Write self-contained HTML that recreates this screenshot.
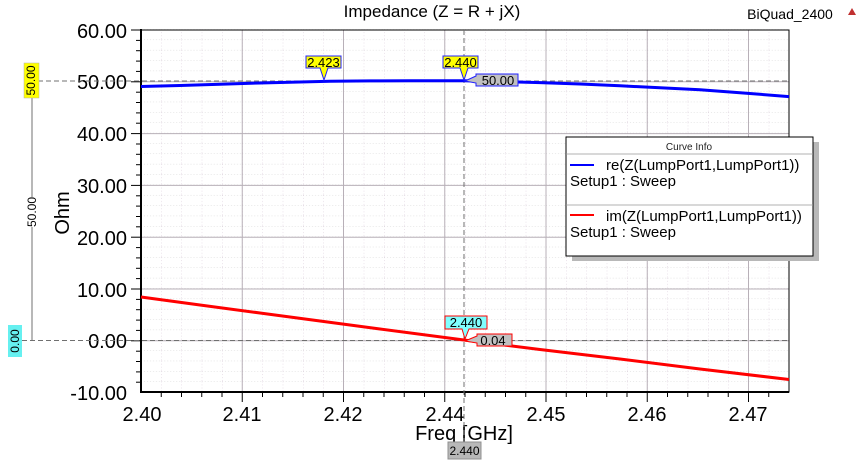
<!DOCTYPE html>
<html><head><meta charset="utf-8"><style>
html,body{margin:0;padding:0;background:#fff;}
svg{display:block;font-family:"Liberation Sans",Arial,sans-serif;}
</style></head><body>
<svg width="865" height="462" viewBox="0 0 865 462" xmlns="http://www.w3.org/2000/svg">
<defs>
<pattern id="minor" patternUnits="userSpaceOnUse" x="141" y="29.2" width="20.25" height="10.36">
<line x1="0" y1="0" x2="20.25" y2="0" stroke="#d0d0d0" stroke-width="1" stroke-dasharray="1,2"/>
<line x1="0" y1="0" x2="0" y2="10.36" stroke="#d8c8d8" stroke-width="1" stroke-dasharray="1,2"/>
</pattern>
</defs>
<rect width="865" height="462" fill="#fff"/>
<text x="432" y="17" font-size="17" text-anchor="middle" fill="#000">Impedance (Z = R + jX)</text>
<text x="790" y="19" font-size="14" text-anchor="middle" fill="#000">BiQuad_2400</text>
<polygon points="852,8 848,15 856,15" fill="#c03030"/>
<rect x="141" y="29.2" width="648" height="362.6" fill="url(#minor)"/>
<g stroke="#b8b0b8" stroke-width="1">
<line x1="242.25" y1="30" x2="242.25" y2="392"/><line x1="343.5" y1="30" x2="343.5" y2="392"/>
<line x1="444.75" y1="30" x2="444.75" y2="392"/><line x1="546" y1="30" x2="546" y2="392"/>
<line x1="647.25" y1="30" x2="647.25" y2="392"/><line x1="748.5" y1="30" x2="748.5" y2="392"/>
<line x1="141" y1="133.6" x2="789" y2="133.6"/><line x1="141" y1="185.4" x2="789" y2="185.4"/>
<line x1="141" y1="237.2" x2="789" y2="237.2"/><line x1="141" y1="289" x2="789" y2="289"/>
<line x1="141" y1="81.8" x2="789" y2="81.8"/><line x1="141" y1="340.8" x2="789" y2="340.8"/>
</g>
<rect x="141" y="30" width="648" height="362" fill="none" stroke="#000" stroke-width="1"/>
<line x1="141" y1="29" x2="141" y2="393" stroke="#000" stroke-width="2"/>
<line x1="140" y1="392" x2="789" y2="392" stroke="#000" stroke-width="2"/>
<g stroke="#000" stroke-width="1">
<line x1="131" y1="30" x2="141" y2="30"/><line x1="131" y1="81.8" x2="141" y2="81.8"/><line x1="131" y1="133.6" x2="141" y2="133.6"/>
<line x1="131" y1="185.4" x2="141" y2="185.4"/><line x1="131" y1="237.2" x2="141" y2="237.2"/><line x1="131" y1="289" x2="141" y2="289"/>
<line x1="131" y1="340.8" x2="141" y2="340.8"/>
<line x1="136" y1="40.4" x2="141" y2="40.4"/><line x1="136" y1="50.7" x2="141" y2="50.7"/><line x1="136" y1="61.1" x2="141" y2="61.1"/><line x1="136" y1="71.4" x2="141" y2="71.4"/>
<line x1="136" y1="92.2" x2="141" y2="92.2"/><line x1="136" y1="102.5" x2="141" y2="102.5"/><line x1="136" y1="112.9" x2="141" y2="112.9"/><line x1="136" y1="123.2" x2="141" y2="123.2"/>
<line x1="136" y1="144" x2="141" y2="144"/><line x1="136" y1="154.3" x2="141" y2="154.3"/><line x1="136" y1="164.7" x2="141" y2="164.7"/><line x1="136" y1="175" x2="141" y2="175"/>
<line x1="136" y1="195.8" x2="141" y2="195.8"/><line x1="136" y1="206.1" x2="141" y2="206.1"/><line x1="136" y1="216.5" x2="141" y2="216.5"/><line x1="136" y1="226.8" x2="141" y2="226.8"/>
<line x1="136" y1="247.6" x2="141" y2="247.6"/><line x1="136" y1="257.9" x2="141" y2="257.9"/><line x1="136" y1="268.3" x2="141" y2="268.3"/><line x1="136" y1="278.6" x2="141" y2="278.6"/>
<line x1="136" y1="299.4" x2="141" y2="299.4"/><line x1="136" y1="309.7" x2="141" y2="309.7"/><line x1="136" y1="320.1" x2="141" y2="320.1"/><line x1="136" y1="330.4" x2="141" y2="330.4"/>
<line x1="136" y1="351.2" x2="141" y2="351.2"/><line x1="136" y1="361.5" x2="141" y2="361.5"/><line x1="136" y1="371.9" x2="141" y2="371.9"/><line x1="136" y1="382.2" x2="141" y2="382.2"/>
</g>
<g stroke="#000" stroke-width="1">
<line x1="242.25" y1="392" x2="242.25" y2="402"/><line x1="343.5" y1="392" x2="343.5" y2="402"/><line x1="444.75" y1="392" x2="444.75" y2="402"/>
<line x1="546" y1="392" x2="546" y2="402"/><line x1="647.25" y1="392" x2="647.25" y2="402"/><line x1="748.5" y1="392" x2="748.5" y2="402"/>
<line x1="161.25" y1="392" x2="161.25" y2="397"/><line x1="181.5" y1="392" x2="181.5" y2="397"/><line x1="201.75" y1="392" x2="201.75" y2="397"/><line x1="222" y1="392" x2="222" y2="397"/>
<line x1="262.5" y1="392" x2="262.5" y2="397"/><line x1="282.75" y1="392" x2="282.75" y2="397"/><line x1="303" y1="392" x2="303" y2="397"/><line x1="323.25" y1="392" x2="323.25" y2="397"/>
<line x1="363.75" y1="392" x2="363.75" y2="397"/><line x1="384" y1="392" x2="384" y2="397"/><line x1="404.25" y1="392" x2="404.25" y2="397"/><line x1="424.5" y1="392" x2="424.5" y2="397"/>
<line x1="465" y1="392" x2="465" y2="397"/><line x1="485.25" y1="392" x2="485.25" y2="397"/><line x1="505.5" y1="392" x2="505.5" y2="397"/><line x1="525.75" y1="392" x2="525.75" y2="397"/>
<line x1="566.25" y1="392" x2="566.25" y2="397"/><line x1="586.5" y1="392" x2="586.5" y2="397"/><line x1="606.75" y1="392" x2="606.75" y2="397"/><line x1="627" y1="392" x2="627" y2="397"/>
<line x1="667.5" y1="392" x2="667.5" y2="397"/><line x1="687.75" y1="392" x2="687.75" y2="397"/><line x1="708" y1="392" x2="708" y2="397"/><line x1="728.25" y1="392" x2="728.25" y2="397"/>
<line x1="768.75" y1="392" x2="768.75" y2="397"/>
</g>
<g font-size="20" text-anchor="end" fill="#000">
<text x="127" y="38">60.00</text><text x="127" y="89">50.00</text><text x="127" y="141">40.00</text>
<text x="127" y="193">30.00</text><text x="127" y="245">20.00</text><text x="127" y="297">10.00</text>
<text x="127" y="348">0.00</text><text x="127" y="400">-10.00</text>
</g>
<text x="69" y="213" font-size="20" text-anchor="middle" transform="rotate(-90 69 213)">Ohm</text>
<g font-size="20" text-anchor="middle" fill="#000">
<text x="142" y="421">2.40</text><text x="242" y="421">2.41</text><text x="343" y="421">2.42</text>
<text x="445" y="421">2.44</text><text x="546" y="421">2.45</text><text x="647" y="421">2.46</text><text x="748" y="421">2.47</text>
</g>
<text x="464" y="440" font-size="20" text-anchor="middle">Freq [GHz]</text>
<g stroke="#707070" stroke-width="1" stroke-dasharray="5,3" fill="none">
<line x1="38" y1="81" x2="789" y2="81"/>
<line x1="22" y1="340.5" x2="789" y2="340.5"/>
<line x1="464" y1="30" x2="464" y2="442"/>
</g>
<line x1="32" y1="97" x2="32" y2="340.5" stroke="#707070" stroke-width="1"/>
<rect x="24" y="197" width="16" height="30" fill="#fff"/>
<text x="36" y="212" font-size="12" text-anchor="middle" transform="rotate(-90 36 212)">50.00</text>
<rect x="24" y="63" width="15" height="35" fill="#ffff00" stroke="#b0b0b0" stroke-width="0.5"/>
<text x="35" y="80.5" font-size="12" text-anchor="middle" transform="rotate(-90 35 80.5)">50.00</text>
<rect x="8" y="325" width="14" height="32" fill="#66f0f0"/>
<text x="19" y="341" font-size="12" text-anchor="middle" transform="rotate(-90 19 341)">0.00</text>
<polyline fill="none" stroke="#0000ff" stroke-width="3" points="141,86.5 180,85.5 220,84.2 260,83 300,82 330,81.3 370,80.9 410,80.7 464,80.8 500,81.5 540,82.6 580,84 620,85.8 660,87.8 700,89.8 740,92.7 789,96.6"/>
<polyline fill="none" stroke="#ff0000" stroke-width="3" points="141,297 200,305 260,313 320,321 380,329 464,340 540,349.5 620,359 700,369 789,379.5"/>
<polygon points="306,56 341,56 341,68 328,68 324,80 320,68 306,68" fill="#ffff00" stroke="#2020ff" stroke-width="1"/>
<text x="323.5" y="67" font-size="13" text-anchor="middle">2.423</text>
<polygon points="443,56 478,56 478,68 468,68 464,80 460,68 443,68" fill="#ffff00" stroke="#2020ff" stroke-width="1"/>
<text x="460.5" y="67" font-size="13" text-anchor="middle">2.440</text>
<polygon points="465,81 476,76 476,74 518,74 518,86 476,86 476,83" fill="#c0c0c0" stroke="#2020ff" stroke-width="1"/>
<text x="498" y="85" font-size="13" text-anchor="middle">50.00</text>
<polygon points="445,316 487,316 487,329 469,329 465,339 462,329 445,329" fill="#80ffff" stroke="#ff0000" stroke-width="1"/>
<text x="466" y="327" font-size="13" text-anchor="middle">2.440</text>
<polygon points="465,341 477,336 477,334 512,334 512,346 477,346 477,343" fill="#c0c0c0" stroke="#ff0000" stroke-width="1"/>
<text x="493" y="345" font-size="13" text-anchor="middle">0.04</text>
<rect x="448" y="442" width="33" height="17" fill="#b8b8b8" stroke="#909090" stroke-width="1"/>
<text x="464.5" y="455" font-size="12" text-anchor="middle">2.440</text>
<rect x="572" y="142" width="247" height="119" fill="#b8b8b8"/>
<rect x="566" y="137" width="247" height="119" fill="#fff" stroke="#000" stroke-width="1"/>
<text x="689" y="150" font-size="10" text-anchor="middle" fill="#222">Curve Info</text>
<line x1="566" y1="154" x2="813" y2="154" stroke="#999" stroke-width="0.7"/>
<line x1="570" y1="165" x2="594" y2="165" stroke="#0000ff" stroke-width="2"/>
<text x="606" y="170" font-size="15">re(Z(LumpPort1,LumpPort1))</text>
<text x="570" y="186" font-size="15">Setup1 : Sweep</text>
<line x1="566" y1="205" x2="813" y2="205" stroke="#999" stroke-width="0.7"/>
<line x1="570" y1="215" x2="594" y2="215" stroke="#ff0000" stroke-width="2"/>
<text x="606" y="221" font-size="15">im(Z(LumpPort1,LumpPort1))</text>
<text x="570" y="237" font-size="15">Setup1 : Sweep</text>
</svg>
</body></html>
